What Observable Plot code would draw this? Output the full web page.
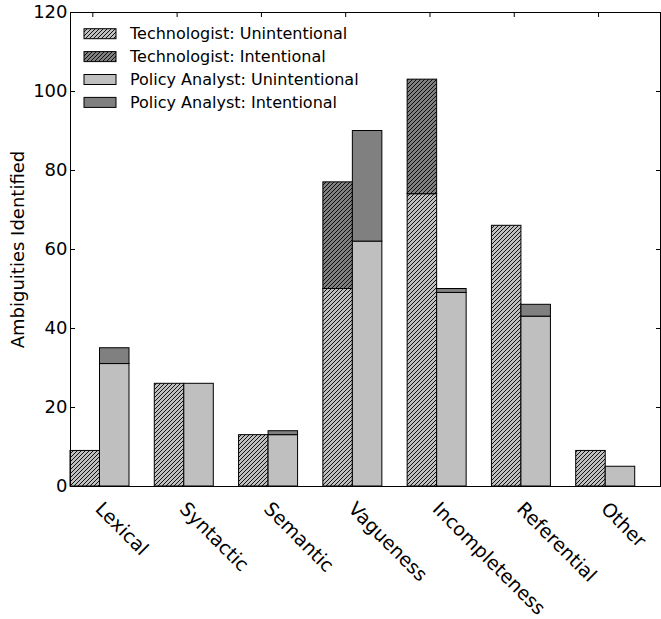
<!DOCTYPE html>
<html><head><meta charset="utf-8">
<script src="https://cdn.jsdelivr.net/npm/d3@7"></script>
<script src="https://cdn.jsdelivr.net/npm/@observablehq/plot@0.6"></script>
<style>
body{margin:0;background:#fff;}
#chart{width:661px;height:619px;}
</style></head><body><div id="chart"></div>
<script>
const categories = ["Lexical","Syntactic","Semantic","Vagueness","Incompleteness","Referential","Other"];
const techUnintentional = [9, 26, 13, 50, 74, 66, 9];
const techIntentional   = [0,  0,  0, 27, 29,  0, 0];
const paUnintentional   = [31, 26, 13, 62, 49, 43, 5];
const paIntentional     = [4,  0,  1, 28,  1,  3, 0];
const yTicks = [0, 20, 40, 60, 80, 100, 120];
const seriesNames = ["Technologist: Unintentional", "Technologist: Intentional", "Policy Analyst: Unintentional", "Policy Analyst: Intentional"];
const seriesFills = ["url(#hatchLight)", "url(#hatchDark)", "#bfbfbf", "#808080"];

const barWidth = 0.35;
const tickOffset = 0.265;
const tickPositions = categories.map((c, i) => i + tickOffset);

const rows = [];
categories.forEach((c, i) => {
  const tu = techUnintentional[i], ti = techIntentional[i], pu = paUnintentional[i], pi = paIntentional[i];
  rows.push({s: 0, x1: i, x2: i + barWidth, y1: 0, y2: tu});
  rows.push({s: 1, x1: i, x2: i + barWidth, y1: tu, y2: tu + ti});
  rows.push({s: 2, x1: i + barWidth, x2: i + 2 * barWidth, y1: 0, y2: pu});
  rows.push({s: 3, x1: i + barWidth, x2: i + 2 * barWidth, y1: pu, y2: pu + pi});
});
const segs = rows.filter(d => d.y2 > d.y1);

const defs = () => {
  const g = d3.create("svg:defs");
  function hatch(id, bg) {
    const p = g.append("pattern").attr("id", id).attr("patternUnits", "userSpaceOnUse")
      .attr("width", 4).attr("height", 4);
    p.append("rect").attr("width", 4).attr("height", 4).attr("fill", bg);
    p.append("path").attr("d", "M-1,1 L1,-1 M0,4 L4,0 M3,5 L5,3")
      .attr("stroke", "#000").attr("stroke-width", 0.9);
  }
  hatch("hatchLight", "#bfbfbf");
  hatch("hatchDark", "#808080");
  return g.node();
};

const legend = () => {
  const g = d3.create("svg:g").attr("font-size", 16).attr("fill", "#000").attr("text-anchor", "start");
  seriesNames.forEach((name, i) => {
    const cy = 33.7 + 22.9 * i;
    g.append("rect").attr("x", 84).attr("y", cy - 5).attr("width", 32).attr("height", 10)
      .attr("fill", seriesFills[i]).attr("stroke", "#000").attr("stroke-width", 1);
    g.append("text").attr("x", 130).attr("y", cy).attr("dy", "0.35em").text(name);
  });
  return g.node();
};

const barMarks = seriesNames.map((name, s) =>
  Plot.rect(segs.filter(d => d.s === s), {x1: "x1", x2: "x2", y1: "y1", y2: "y2",
    fill: seriesFills[s], stroke: "#000", strokeWidth: 1}));

const chart = Plot.plot({
  width: 661, height: 619,
  marginTop: 12, marginBottom: 133, marginLeft: 70, marginRight: 1,
  x: {domain: [0, 7]},
  y: {domain: [0, 120]},
  style: {fontFamily: "DejaVu Sans", fontSize: "19px", color: "#000", background: "#fff"},
  marks: [
    defs,
    ...barMarks,
    legend,
    Plot.axisY({ticks: yTicks, tickSize: -5, tickPadding: 8, fontSize: 18,
      label: "Ambiguities Identified", labelAnchor: "center", labelArrow: "none", labelOffset: 59}),
    Plot.axisY({anchor: "right", ticks: yTicks, tickSize: -5, tickFormat: () => "", label: null}),
    Plot.axisX({anchor: "top", ticks: tickPositions, tickSize: -4, tickFormat: () => "", label: null}),
    Plot.axisX({anchor: "bottom", ticks: tickPositions, tickSize: 0, tickPadding: 14, tickRotate: 45,
      tickFormat: d => categories[Math.round(d - tickOffset)], label: null, fontSize: 19,
      textAnchor: "start", lineAnchor: "top", dx: 11}),
    Plot.frame({stroke: "#000", strokeWidth: 1})
  ]
});
document.getElementById("chart").appendChild(chart);
</script></body></html>
